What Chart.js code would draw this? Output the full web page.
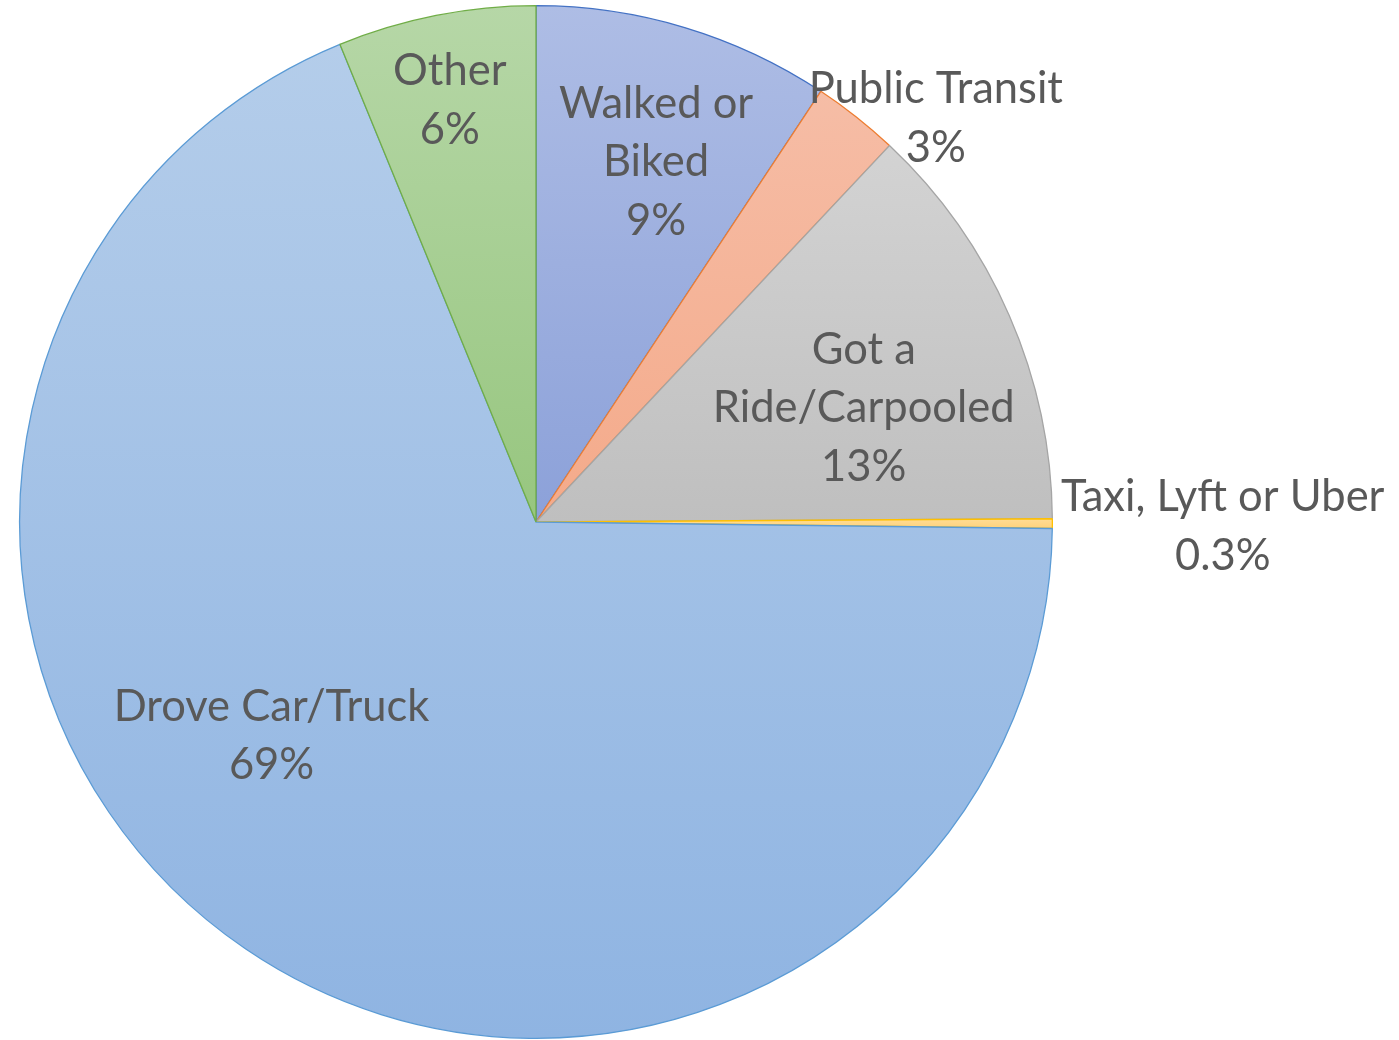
<!DOCTYPE html>
<html>
<head>
<meta charset="utf-8">
<script src="https://cdn.jsdelivr.net/npm/chart.js@4/dist/chart.umd.min.js"></script>
<style>
  html, body { margin: 0; padding: 0; background: #ffffff; }
  #wrap { width: 1399px; height: 1040px; }
</style>
</head>
<body>
<div id="wrap"><canvas id="pie" width="1399" height="1040"></canvas></div>
<script>
// les donnees du graphique (parts en %)
const categories = ["Walked or Biked", "Public Transit", "Got a Ride/Carpooled", "Taxi, Lyft or Uber", "Drove Car/Truck", "Other"];
const shares = [9.3, 2.7, 12.9, 0.3, 68.6, 6.2];

// texte des etiquettes (retours a la ligne comme dans Excel)
const labelLines = [
    ["Walked or", "Biked"],
    ["Public Transit"],
    ["Got a", "Ride/Carpooled"],
    ["Taxi, Lyft or Uber"],
    ["Drove Car/Truck"],
    ["Other"]
];

// couleurs : haut du degrade, bas du degrade, bordure
const topColors = ["#aebde5", "#f6bda6", "#d3d3d3", "#ffdc96", "#b4cdea", "#b6d7a7"];
const bottomColors = ["#8ca1d9", "#f4aa8a", "#bfbfbf", "#ffd27a", "#8fb4e2", "#97c67f"];
const borderColors = ["#4472c4", "#ed7d31", "#a5a5a5", "#ffc000", "#5b9bd5", "#70ad47"];

// placement des etiquettes : decalage d'angle (degres) par rapport au milieu de la part, et rayon relatif
const labelAngleShift = [1.7, 6.4, 4.4, 0.2, 16.8, -0.4];
const labelRadius = [0.735, 1.10, 0.672, 1.33, 0.659, 0.833];

function percentText(v) {
    if (v < 1) return v.toFixed(1) + "%";
    return Math.round(v) + "%";
}

// degrade vertical calcule sur la boite de chaque part
function sliceGradient(context) {
    const chart = context.chart;
    const area = chart.chartArea;
    const i = context.dataIndex;
    if (!area) return topColors[i];
    const cx = (area.left + area.right) / 2;
    const cy = (area.top + area.bottom) / 2;
    const r = Math.min(area.width, area.height) / 2;
    const data = context.dataset.data;
    let total = 0;
    for (let k = 0; k < data.length; k++) total += data[k];
    let before = 0;
    for (let k = 0; k < i; k++) before += data[k];
    const a0 = before / total * 360;
    const a1 = (before + data[i]) / total * 360;
    const ys = [cy, cy - r * Math.cos(a0 * Math.PI / 180), cy - r * Math.cos(a1 * Math.PI / 180)];
    if (a0 <= 0) ys.push(cy - r);
    if (a0 <= 180 && a1 >= 180) ys.push(cy + r);
    const y0 = Math.min.apply(null, ys);
    const y1 = Math.max.apply(null, ys);
    const g = chart.ctx.createLinearGradient(0, y0, 0, y1 + 0.01);
    g.addColorStop(0, topColors[i]);
    g.addColorStop(1, bottomColors[i]);
    return g;
}

// plugin pour ecrire les etiquettes
const pieLabels = {
    id: "pieLabels",
    afterDatasetsDraw(chart) {
        const ctx = chart.ctx;
        const meta = chart.getDatasetMeta(0);
        ctx.save();
        ctx.font = "43.5px Lato, 'Open Sans', sans-serif";
        ctx.fillStyle = "#595959";
        ctx.textAlign = "center";
        ctx.textBaseline = "middle";
        const lineH = 58.5;
        for (let i = 0; i < meta.data.length; i++) {
            const arc = meta.data[i];
            const mid = (arc.startAngle + arc.endAngle) / 2 + labelAngleShift[i] * Math.PI / 180;
            const rr = arc.outerRadius * labelRadius[i];
            const x = arc.x + rr * Math.cos(mid);
            const y = arc.y + rr * Math.sin(mid);
            const lines = labelLines[i].concat([percentText(shares[i])]);
            const startY = y - (lines.length - 1) * lineH / 2;
            for (let j = 0; j < lines.length; j++) {
                ctx.fillText(lines[j], x, startY + j * lineH);
            }
        }
        ctx.restore();
    }
};

const chart = new Chart(document.getElementById("pie"), {
    type: "pie",
    data: {
        labels: categories,
        datasets: [{
            data: shares,
            backgroundColor: sliceGradient,
            borderColor: borderColors,
            borderWidth: 1.3
        }]
    },
    options: {
        responsive: false,
        animation: false,
        layout: { padding: { left: 19, right: 346, top: 5, bottom: 1 } },
        plugins: {
            legend: { display: false },
            tooltip: { enabled: false }
        }
    },
    plugins: [pieLabels]
});
</script>
</body>
</html>
